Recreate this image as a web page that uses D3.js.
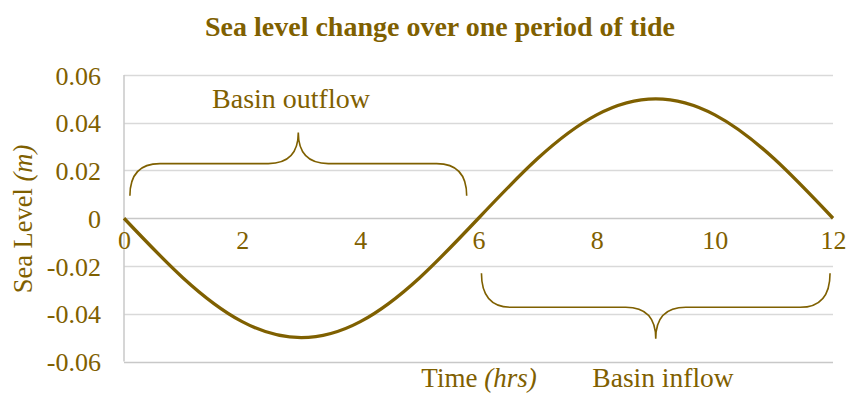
<!DOCTYPE html>
<html>
<head>
<meta charset="utf-8">
<script src="https://cdn.jsdelivr.net/npm/d3@7"></script>
<style>
  html, body { margin: 0; padding: 0; background: #ffffff; }
  svg { display: block; font-family: "Liberation Serif", "Times New Roman", serif; }
</style>
</head>
<body>
<svg id="chart" width="847" height="394"></svg>
<script>
// Hourly sea level over one tidal period (m)
const hours = [0, 1, 2, 3, 4, 5, 6, 7, 8, 9, 10, 11, 12];
const seaLevel = [0, -0.025, -0.0433, -0.05, -0.0433, -0.025, 0, 0.025, 0.0433, 0.05, 0.0433, 0.025, 0];
const yTicks = [-0.06, -0.04, -0.02, 0, 0.02, 0.04, 0.06];
const xTicks = [0, 2, 4, 6, 8, 10, 12];

// Bracket annotations, in data units: [start hour, end hour, end level, bar level, tip level]
const outflowBrace = [0.1, 5.8, 0.0094, 0.0229, 0.0359];
const inflowBrace = [6.05, 11.95, -0.023, -0.0373, -0.0505];

const ink = "#7F6000";
const svg = d3.select("#chart");

const x = d3.scaleLinear().domain([0, 12]).range([124, 833]);
const y = d3.scaleLinear().domain([-0.06, 0.06]).range([361.5, 75]);

// Title
svg.append("text")
  .attr("x", 440).attr("y", 36)
  .attr("text-anchor", "middle")
  .attr("font-size", 28).attr("font-weight", "bold")
  .attr("fill", ink)
  .text("Sea level change over one period of tide");

// Horizontal gridlines
svg.append("g").selectAll("line")
  .data(yTicks)
  .join("line")
  .attr("x1", x(0)).attr("x2", x(12))
  .attr("y1", d => Math.round(y(d)) + 0.5).attr("y2", d => Math.round(y(d)) + 0.5)
  .attr("stroke", d => (d === 0 || d === -0.06) ? "#c8c8c8" : "#d9d9d9")
  .attr("stroke-width", 1.5);

// Vertical axis line
svg.append("line")
  .attr("x1", x(0)).attr("x2", x(0))
  .attr("y1", y(0.06)).attr("y2", y(-0.06))
  .attr("stroke", "#c8c8c8").attr("stroke-width", 1.5);

// Y axis labels (plain hyphen for negatives)
const yAxis = svg.append("g")
  .attr("transform", `translate(${x(0)},0)`)
  .call(d3.axisLeft(y).tickValues(yTicks).tickSize(0).tickPadding(23)
    .tickFormat(d => d === 0 ? "0" : d3.format(".2f")(d).replace("\u2212", "-")));
yAxis.select(".domain").remove();
yAxis.selectAll("text")
  .attr("font-family", "Liberation Serif").attr("font-size", 26)
  .attr("fill", ink).attr("dy", "0.35em");

// X axis labels along the zero line
const xAxis = svg.append("g")
  .attr("transform", `translate(0,${y(0)})`)
  .call(d3.axisBottom(x).tickValues(xTicks).tickSize(0).tickPadding(22)
    .tickFormat(d3.format("d")));
xAxis.select(".domain").remove();
xAxis.selectAll("text")
  .attr("font-family", "Liberation Serif").attr("font-size", 26)
  .attr("fill", ink).attr("dy", "0.35em");

// Axis titles
const yTitle = svg.append("text")
  .attr("transform", "translate(32,219) rotate(-90)")
  .attr("text-anchor", "middle")
  .attr("font-size", 26.5).attr("fill", ink);
yTitle.append("tspan").text("Sea Level ");
yTitle.append("tspan").attr("font-style", "italic").text("(m)");

const xTitle = svg.append("text")
  .attr("x", 479).attr("y", 387)
  .attr("text-anchor", "middle")
  .attr("font-size", 27).attr("fill", ink);
xTitle.append("tspan").text("Time ");
xTitle.append("tspan").attr("font-style", "italic").text("(hrs)");

// Sea level curve
const line = d3.line()
  .x((d, i) => x(hours[i]))
  .y(d => y(d))
  .curve(d3.curveNatural);

svg.append("path")
  .datum(seaLevel)
  .attr("d", line)
  .attr("fill", "none")
  .attr("stroke", ink)
  .attr("stroke-width", 3.3)
  .attr("stroke-linejoin", "round");

// Curly brace builder
function brace([h0, h1, endLv, barLv, tipLv]) {
  const x0 = x(h0), x1 = x(h1), xm = (x0 + x1) / 2;
  const yE = y(endLv), yB = y(barLv), yT = y(tipLv);
  const r = 30, r2 = 30;
  const p = d3.path();
  p.moveTo(x0, yE);
  p.quadraticCurveTo(x0, yB, x0 + r, yB);
  p.lineTo(xm - r2, yB);
  p.quadraticCurveTo(xm, yB, xm, yT);
  p.quadraticCurveTo(xm, yB, xm + r2, yB);
  p.lineTo(x1 - r, yB);
  p.quadraticCurveTo(x1, yB, x1, yE);
  return p.toString();
}

svg.append("path")
  .attr("d", brace(outflowBrace))
  .attr("fill", "none").attr("stroke", ink).attr("stroke-width", 1.6);
svg.append("path")
  .attr("d", brace(inflowBrace))
  .attr("fill", "none").attr("stroke", ink).attr("stroke-width", 1.6);

// Bracket labels
svg.append("text")
  .attr("x", 291).attr("y", 108)
  .attr("text-anchor", "middle")
  .attr("font-size", 28).attr("fill", ink)
  .text("Basin outflow");
svg.append("text")
  .attr("x", 663).attr("y", 387)
  .attr("text-anchor", "middle")
  .attr("font-size", 27.5).attr("fill", ink)
  .text("Basin inflow");
</script>
</body>
</html>
